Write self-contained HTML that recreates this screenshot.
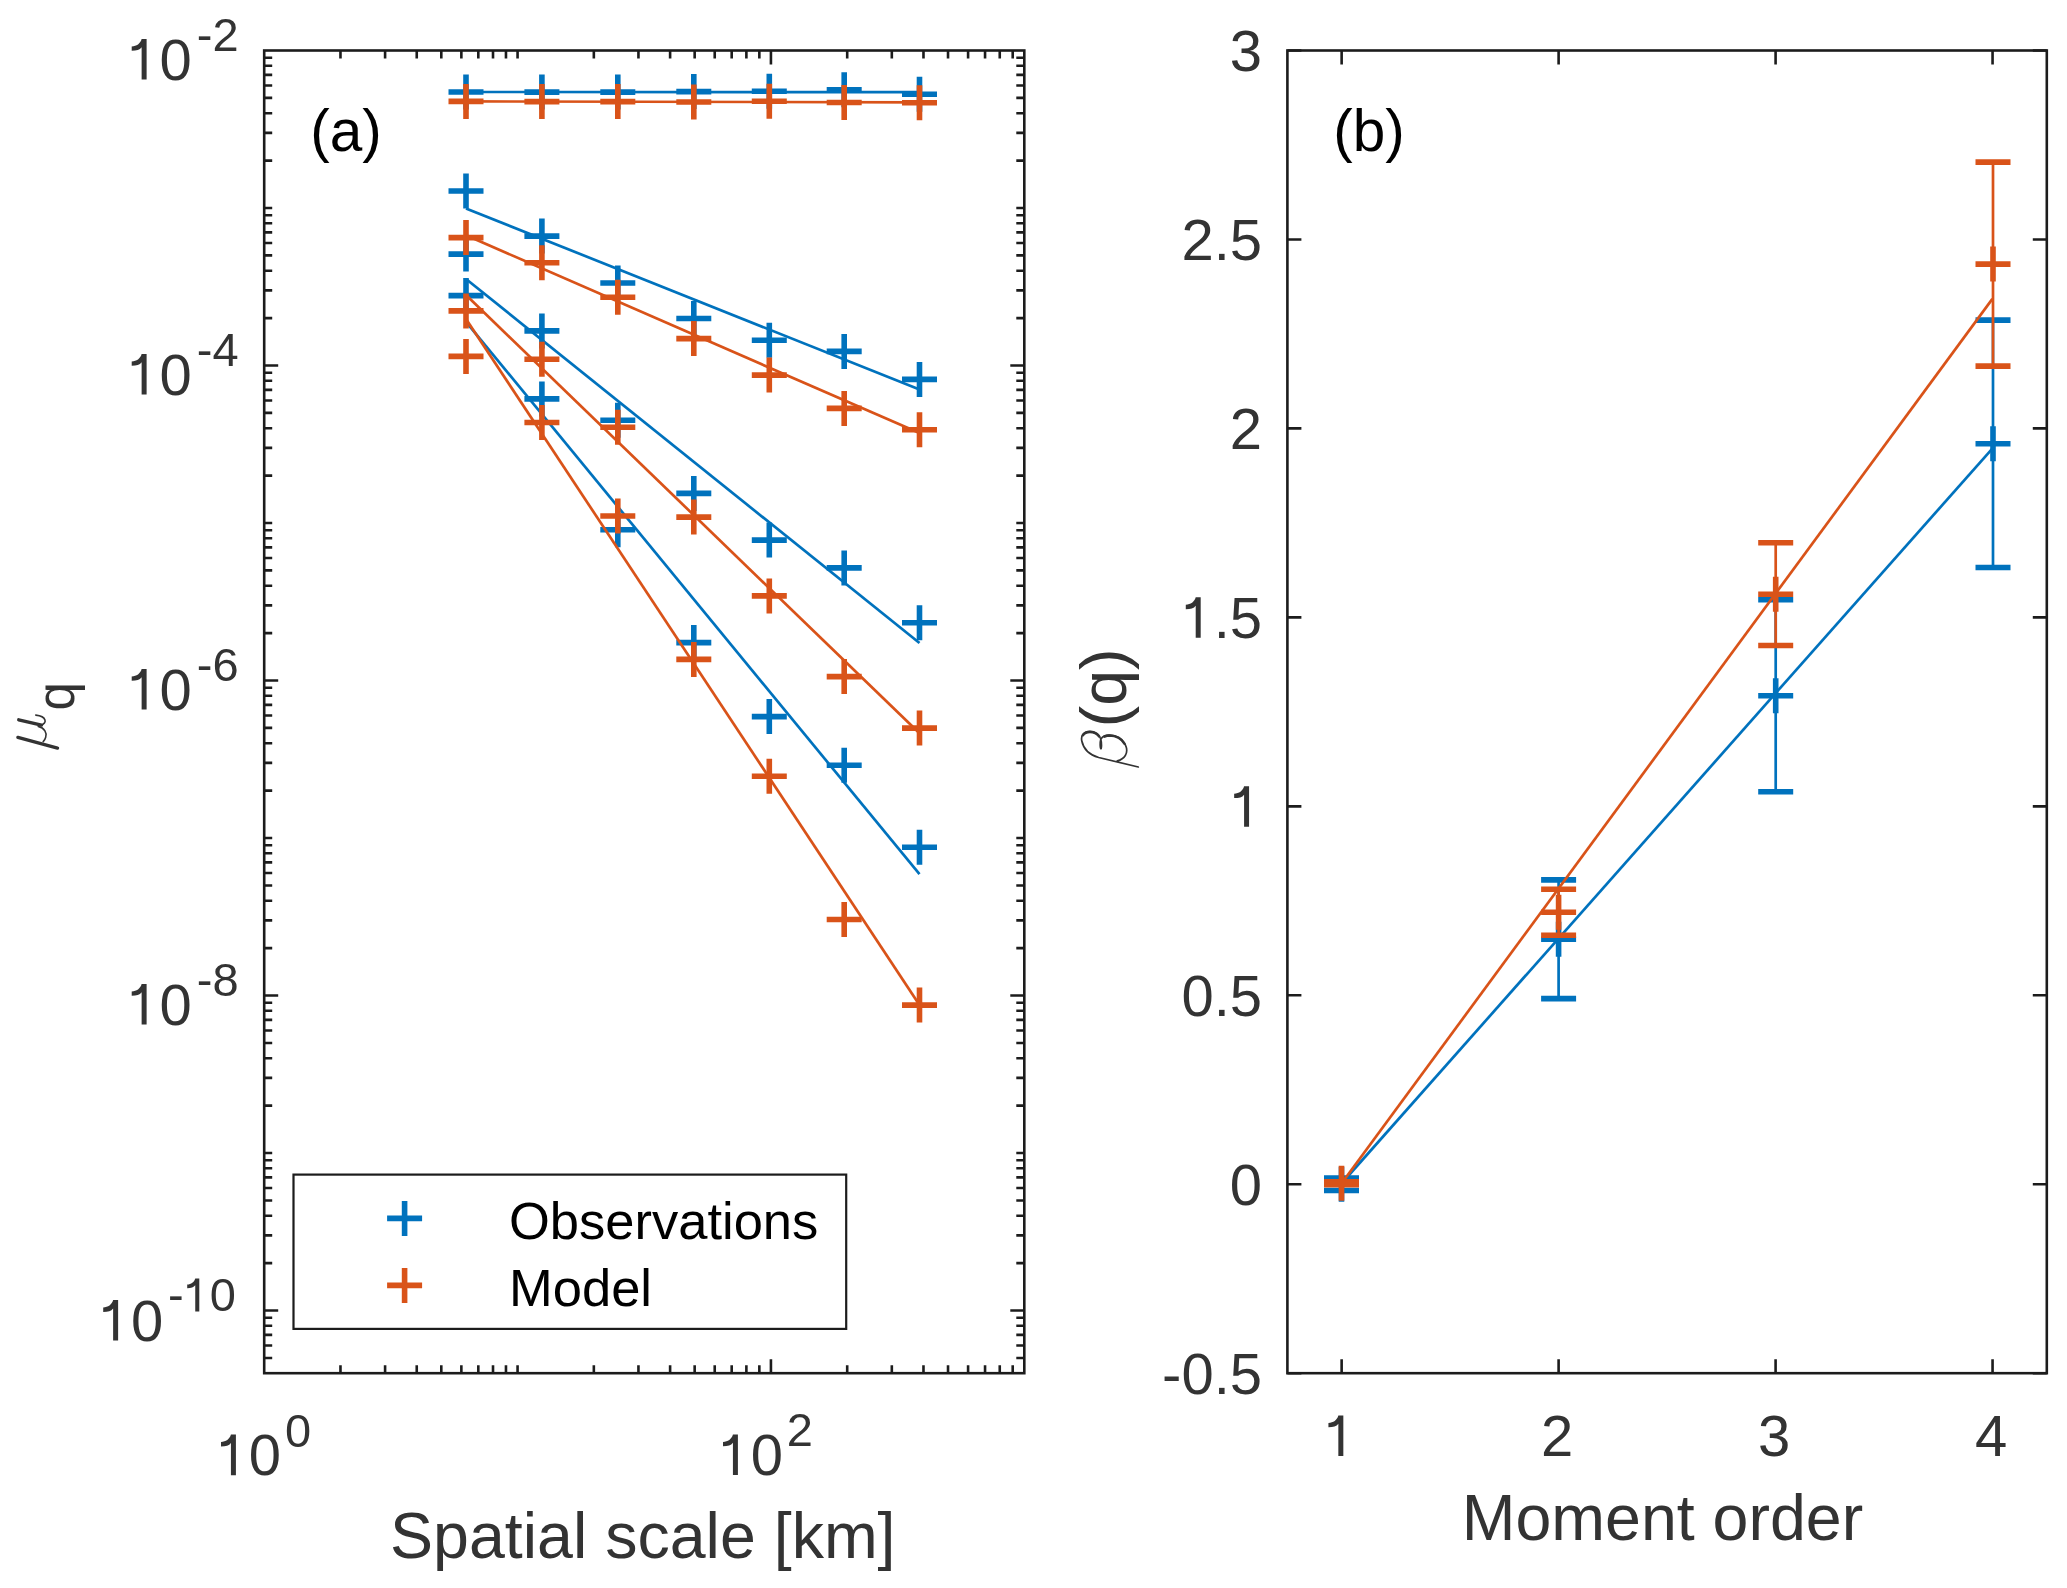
<!DOCTYPE html>
<html><head><meta charset="utf-8"><style>
html,body{margin:0;padding:0;background:#fff;}
svg{display:block;will-change:transform;}
text{font-family:"Liberation Sans",sans-serif;}
</style></head><body>
<svg width="2067" height="1588" viewBox="0 0 2067 1588">
<rect width="2067" height="1588" fill="#fff"/>
<path d="M340.47 1373.20V1365.20M340.47 50.50V58.50M385.09 1373.20V1365.20M385.09 50.50V58.50M416.74 1373.20V1365.20M416.74 50.50V58.50M441.30 1373.20V1365.20M441.30 50.50V58.50M461.36 1373.20V1365.20M461.36 50.50V58.50M478.32 1373.20V1365.20M478.32 50.50V58.50M493.01 1373.20V1365.20M493.01 50.50V58.50M505.97 1373.20V1365.20M505.97 50.50V58.50M517.57 1373.20V1365.20M517.57 50.50V58.50M593.84 1373.20V1365.20M593.84 50.50V58.50M638.45 1373.20V1365.20M638.45 50.50V58.50M670.11 1373.20V1365.20M670.11 50.50V58.50M694.66 1373.20V1365.20M694.66 50.50V58.50M714.72 1373.20V1365.20M714.72 50.50V58.50M731.69 1373.20V1365.20M731.69 50.50V58.50M746.38 1373.20V1365.20M746.38 50.50V58.50M759.34 1373.20V1365.20M759.34 50.50V58.50M770.93 1373.20V1359.20M770.93 50.50V64.50M847.20 1373.20V1365.20M847.20 50.50V58.50M891.82 1373.20V1365.20M891.82 50.50V58.50M923.48 1373.20V1365.20M923.48 50.50V58.50M948.03 1373.20V1365.20M948.03 50.50V58.50M968.09 1373.20V1365.20M968.09 50.50V58.50M985.05 1373.20V1365.20M985.05 50.50V58.50M999.75 1373.20V1365.20M999.75 50.50V58.50M1012.71 1373.20V1365.20M1012.71 50.50V58.50M770.93 1373.20V1359.20M770.93 50.50V64.50M264.20 1357.94H272.20M1024.30 1357.94H1016.30M264.20 1345.47H272.20M1024.30 1345.47H1016.30M264.20 1334.92H272.20M1024.30 1334.92H1016.30M264.20 1325.79H272.20M1024.30 1325.79H1016.30M264.20 1317.73H272.20M1024.30 1317.73H1016.30M264.20 1310.52H278.20M1024.30 1310.52H1010.30M264.20 1263.11H272.20M1024.30 1263.11H1016.30M264.20 1235.38H272.20M1024.30 1235.38H1016.30M264.20 1215.70H272.20M1024.30 1215.70H1016.30M264.20 1200.43H272.20M1024.30 1200.43H1016.30M264.20 1187.96H272.20M1024.30 1187.96H1016.30M264.20 1177.42H272.20M1024.30 1177.42H1016.30M264.20 1168.28H272.20M1024.30 1168.28H1016.30M264.20 1160.23H272.20M1024.30 1160.23H1016.30M264.20 1153.02H272.20M1024.30 1153.02H1016.30M264.20 1105.61H272.20M1024.30 1105.61H1016.30M264.20 1077.87H272.20M1024.30 1077.87H1016.30M264.20 1058.19H272.20M1024.30 1058.19H1016.30M264.20 1042.93H272.20M1024.30 1042.93H1016.30M264.20 1030.46H272.20M1024.30 1030.46H1016.30M264.20 1019.91H272.20M1024.30 1019.91H1016.30M264.20 1010.78H272.20M1024.30 1010.78H1016.30M264.20 1002.72H272.20M1024.30 1002.72H1016.30M264.20 995.52H278.20M1024.30 995.52H1010.30M264.20 948.10H272.20M1024.30 948.10H1016.30M264.20 920.37H272.20M1024.30 920.37H1016.30M264.20 900.69H272.20M1024.30 900.69H1016.30M264.20 885.43H272.20M1024.30 885.43H1016.30M264.20 872.96H272.20M1024.30 872.96H1016.30M264.20 862.41H272.20M1024.30 862.41H1016.30M264.20 853.28H272.20M1024.30 853.28H1016.30M264.20 845.22H272.20M1024.30 845.22H1016.30M264.20 838.01H272.20M1024.30 838.01H1016.30M264.20 790.60H272.20M1024.30 790.60H1016.30M264.20 762.87H272.20M1024.30 762.87H1016.30M264.20 743.19H272.20M1024.30 743.19H1016.30M264.20 727.92H272.20M1024.30 727.92H1016.30M264.20 715.45H272.20M1024.30 715.45H1016.30M264.20 704.91H272.20M1024.30 704.91H1016.30M264.20 695.78H272.20M1024.30 695.78H1016.30M264.20 687.72H272.20M1024.30 687.72H1016.30M264.20 680.51H278.20M1024.30 680.51H1010.30M264.20 633.10H272.20M1024.30 633.10H1016.30M264.20 605.36H272.20M1024.30 605.36H1016.30M264.20 585.69H272.20M1024.30 585.69H1016.30M264.20 570.42H272.20M1024.30 570.42H1016.30M264.20 557.95H272.20M1024.30 557.95H1016.30M264.20 547.41H272.20M1024.30 547.41H1016.30M264.20 538.27H272.20M1024.30 538.27H1016.30M264.20 530.22H272.20M1024.30 530.22H1016.30M264.20 523.01H272.20M1024.30 523.01H1016.30M264.20 475.60H272.20M1024.30 475.60H1016.30M264.20 447.86H272.20M1024.30 447.86H1016.30M264.20 428.18H272.20M1024.30 428.18H1016.30M264.20 412.92H272.20M1024.30 412.92H1016.30M264.20 400.45H272.20M1024.30 400.45H1016.30M264.20 389.90H272.20M1024.30 389.90H1016.30M264.20 380.77H272.20M1024.30 380.77H1016.30M264.20 372.71H272.20M1024.30 372.71H1016.30M264.20 365.51H278.20M1024.30 365.51H1010.30M264.20 318.09H272.20M1024.30 318.09H1016.30M264.20 290.36H272.20M1024.30 290.36H1016.30M264.20 270.68H272.20M1024.30 270.68H1016.30M264.20 255.42H272.20M1024.30 255.42H1016.30M264.20 242.94H272.20M1024.30 242.94H1016.30M264.20 232.40H272.20M1024.30 232.40H1016.30M264.20 223.27H272.20M1024.30 223.27H1016.30M264.20 215.21H272.20M1024.30 215.21H1016.30M264.20 208.00H272.20M1024.30 208.00H1016.30M264.20 160.59H272.20M1024.30 160.59H1016.30M264.20 132.85H272.20M1024.30 132.85H1016.30M264.20 113.18H272.20M1024.30 113.18H1016.30M264.20 97.91H272.20M1024.30 97.91H1016.30M264.20 85.44H272.20M1024.30 85.44H1016.30M264.20 74.90H272.20M1024.30 74.90H1016.30M264.20 65.76H272.20M1024.30 65.76H1016.30M264.20 57.71H272.20M1024.30 57.71H1016.30" stroke="#1c1c1c" stroke-width="2.6" fill="none"/>
<rect x="264.2" y="50.5" width="760.10" height="1322.70" stroke="#1c1c1c" stroke-width="2.6" fill="none"/>
<path d="M448.50 92.00H483.50M466.00 74.50V109.50" stroke="#0072BD" stroke-width="5.6" fill="none"/><path d="M524.40 92.10H559.40M541.90 74.60V109.60" stroke="#0072BD" stroke-width="5.6" fill="none"/><path d="M600.30 92.10H635.30M617.80 74.60V109.60" stroke="#0072BD" stroke-width="5.6" fill="none"/><path d="M676.30 91.60H711.30M693.80 74.10V109.10" stroke="#0072BD" stroke-width="5.6" fill="none"/><path d="M751.80 91.20H786.80M769.30 73.70V108.70" stroke="#0072BD" stroke-width="5.6" fill="none"/><path d="M826.70 89.70H861.70M844.20 72.20V107.20" stroke="#0072BD" stroke-width="5.6" fill="none"/><path d="M902.00 94.20H937.00M919.50 76.70V111.70" stroke="#0072BD" stroke-width="5.6" fill="none"/><path d="M448.50 191.00H483.50M466.00 173.50V208.50" stroke="#0072BD" stroke-width="5.6" fill="none"/><path d="M524.40 236.10H559.40M541.90 218.60V253.60" stroke="#0072BD" stroke-width="5.6" fill="none"/><path d="M600.30 283.00H635.30M617.80 265.50V300.50" stroke="#0072BD" stroke-width="5.6" fill="none"/><path d="M676.30 318.50H711.30M693.80 301.00V336.00" stroke="#0072BD" stroke-width="5.6" fill="none"/><path d="M751.80 340.20H786.80M769.30 322.70V357.70" stroke="#0072BD" stroke-width="5.6" fill="none"/><path d="M826.70 351.40H861.70M844.20 333.90V368.90" stroke="#0072BD" stroke-width="5.6" fill="none"/><path d="M902.00 379.40H937.00M919.50 361.90V396.90" stroke="#0072BD" stroke-width="5.6" fill="none"/><path d="M448.50 254.10H483.50M466.00 236.60V271.60" stroke="#0072BD" stroke-width="5.6" fill="none"/><path d="M524.40 330.90H559.40M541.90 313.40V348.40" stroke="#0072BD" stroke-width="5.6" fill="none"/><path d="M600.30 420.20H635.30M617.80 402.70V437.70" stroke="#0072BD" stroke-width="5.6" fill="none"/><path d="M676.30 493.40H711.30M693.80 475.90V510.90" stroke="#0072BD" stroke-width="5.6" fill="none"/><path d="M751.80 540.10H786.80M769.30 522.60V557.60" stroke="#0072BD" stroke-width="5.6" fill="none"/><path d="M826.70 567.90H861.70M844.20 550.40V585.40" stroke="#0072BD" stroke-width="5.6" fill="none"/><path d="M902.00 622.70H937.00M919.50 605.20V640.20" stroke="#0072BD" stroke-width="5.6" fill="none"/><path d="M448.50 295.60H483.50M466.00 278.10V313.10" stroke="#0072BD" stroke-width="5.6" fill="none"/><path d="M524.40 398.90H559.40M541.90 381.40V416.40" stroke="#0072BD" stroke-width="5.6" fill="none"/><path d="M600.30 529.80H635.30M617.80 512.30V547.30" stroke="#0072BD" stroke-width="5.6" fill="none"/><path d="M676.30 642.60H711.30M693.80 625.10V660.10" stroke="#0072BD" stroke-width="5.6" fill="none"/><path d="M751.80 716.60H786.80M769.30 699.10V734.10" stroke="#0072BD" stroke-width="5.6" fill="none"/><path d="M826.70 765.20H861.70M844.20 747.70V782.70" stroke="#0072BD" stroke-width="5.6" fill="none"/><path d="M902.00 847.30H937.00M919.50 829.80V864.80" stroke="#0072BD" stroke-width="5.6" fill="none"/><path d="M466.0 92.0L919.5 92.1" stroke="#0072BD" stroke-width="2.7" fill="none"/><path d="M466.0 208.4L919.5 389.6" stroke="#0072BD" stroke-width="2.7" fill="none"/><path d="M466.0 279.0L919.5 643.0" stroke="#0072BD" stroke-width="2.7" fill="none"/><path d="M466.0 321.8L919.5 874.2" stroke="#0072BD" stroke-width="2.7" fill="none"/>
<path d="M448.50 101.40H483.50M466.00 83.90V118.90" stroke="#D95319" stroke-width="5.6" fill="none"/><path d="M524.40 101.60H559.40M541.90 84.10V119.10" stroke="#D95319" stroke-width="5.6" fill="none"/><path d="M600.30 101.60H635.30M617.80 84.10V119.10" stroke="#D95319" stroke-width="5.6" fill="none"/><path d="M676.30 102.00H711.30M693.80 84.50V119.50" stroke="#D95319" stroke-width="5.6" fill="none"/><path d="M751.80 101.20H786.80M769.30 83.70V118.70" stroke="#D95319" stroke-width="5.6" fill="none"/><path d="M826.70 102.50H861.70M844.20 85.00V120.00" stroke="#D95319" stroke-width="5.6" fill="none"/><path d="M902.00 102.70H937.00M919.50 85.20V120.20" stroke="#D95319" stroke-width="5.6" fill="none"/><path d="M448.50 237.60H483.50M466.00 220.10V255.10" stroke="#D95319" stroke-width="5.6" fill="none"/><path d="M524.40 262.80H559.40M541.90 245.30V280.30" stroke="#D95319" stroke-width="5.6" fill="none"/><path d="M600.30 297.20H635.30M617.80 279.70V314.70" stroke="#D95319" stroke-width="5.6" fill="none"/><path d="M676.30 338.60H711.30M693.80 321.10V356.10" stroke="#D95319" stroke-width="5.6" fill="none"/><path d="M751.80 375.10H786.80M769.30 357.60V392.60" stroke="#D95319" stroke-width="5.6" fill="none"/><path d="M826.70 408.40H861.70M844.20 390.90V425.90" stroke="#D95319" stroke-width="5.6" fill="none"/><path d="M902.00 429.80H937.00M919.50 412.30V447.30" stroke="#D95319" stroke-width="5.6" fill="none"/><path d="M448.50 310.90H483.50M466.00 293.40V328.40" stroke="#D95319" stroke-width="5.6" fill="none"/><path d="M524.40 359.20H559.40M541.90 341.70V376.70" stroke="#D95319" stroke-width="5.6" fill="none"/><path d="M600.30 427.30H635.30M617.80 409.80V444.80" stroke="#D95319" stroke-width="5.6" fill="none"/><path d="M676.30 517.10H711.30M693.80 499.60V534.60" stroke="#D95319" stroke-width="5.6" fill="none"/><path d="M751.80 595.90H786.80M769.30 578.40V613.40" stroke="#D95319" stroke-width="5.6" fill="none"/><path d="M826.70 676.60H861.70M844.20 659.10V694.10" stroke="#D95319" stroke-width="5.6" fill="none"/><path d="M902.00 728.10H937.00M919.50 710.60V745.60" stroke="#D95319" stroke-width="5.6" fill="none"/><path d="M448.50 356.40H483.50M466.00 338.90V373.90" stroke="#D95319" stroke-width="5.6" fill="none"/><path d="M524.40 422.50H559.40M541.90 405.00V440.00" stroke="#D95319" stroke-width="5.6" fill="none"/><path d="M600.30 516.00H635.30M617.80 498.50V533.50" stroke="#D95319" stroke-width="5.6" fill="none"/><path d="M676.30 659.40H711.30M693.80 641.90V676.90" stroke="#D95319" stroke-width="5.6" fill="none"/><path d="M751.80 776.20H786.80M769.30 758.70V793.70" stroke="#D95319" stroke-width="5.6" fill="none"/><path d="M826.70 919.50H861.70M844.20 902.00V937.00" stroke="#D95319" stroke-width="5.6" fill="none"/><path d="M902.00 1005.10H937.00M919.50 987.60V1022.60" stroke="#D95319" stroke-width="5.6" fill="none"/><path d="M466.0 101.4L919.5 102.3" stroke="#D95319" stroke-width="2.7" fill="none"/><path d="M466.0 235.3L919.5 433.1" stroke="#D95319" stroke-width="2.7" fill="none"/><path d="M466.0 295.0L919.5 733.3" stroke="#D95319" stroke-width="2.7" fill="none"/><path d="M466.0 319.0L919.5 1005.0" stroke="#D95319" stroke-width="2.7" fill="none"/>
<rect x="293.5" y="1174.6" width="552.7" height="154.3" fill="#fff" stroke="#1c1c1c" stroke-width="2.2"/>
<path d="M387.10 1218.40H422.10M404.60 1200.90V1235.90" stroke="#0072BD" stroke-width="5.6" fill="none"/>
<path d="M387.10 1285.40H422.10M404.60 1267.90V1302.90" stroke="#D95319" stroke-width="5.6" fill="none"/>
<text x="509" y="1238.6" font-size="52.5" fill="#000">Observations</text>
<text x="509" y="1305.9" font-size="52.5" fill="#000">Model</text>
<text x="310.2" y="150.8" font-size="58.5" fill="#000">(a)</text>
<path transform="translate(127.30 79.50) scale(58)" d="M0.247 -0.70H0.333V0H0.247V-0.555C0.215 -0.51 0.16 -0.495 0.076 -0.495V-0.571C0.16 -0.575 0.225 -0.62 0.247 -0.70Z" fill="#333333"/><text x="159.55" y="79.50" font-size="58" fill="#333333">0</text>
<text x="238.65" y="50.70" font-size="47" text-anchor="end" fill="#333333">-2</text>
<path transform="translate(127.30 394.51) scale(58)" d="M0.247 -0.70H0.333V0H0.247V-0.555C0.215 -0.51 0.16 -0.495 0.076 -0.495V-0.571C0.16 -0.575 0.225 -0.62 0.247 -0.70Z" fill="#333333"/><text x="159.55" y="394.51" font-size="58" fill="#333333">0</text>
<text x="238.65" y="365.71" font-size="47" text-anchor="end" fill="#333333">-4</text>
<path transform="translate(127.30 709.51) scale(58)" d="M0.247 -0.70H0.333V0H0.247V-0.555C0.215 -0.51 0.16 -0.495 0.076 -0.495V-0.571C0.16 -0.575 0.225 -0.62 0.247 -0.70Z" fill="#333333"/><text x="159.55" y="709.51" font-size="58" fill="#333333">0</text>
<text x="238.65" y="680.71" font-size="47" text-anchor="end" fill="#333333">-6</text>
<path transform="translate(127.30 1024.52) scale(58)" d="M0.247 -0.70H0.333V0H0.247V-0.555C0.215 -0.51 0.16 -0.495 0.076 -0.495V-0.571C0.16 -0.575 0.225 -0.62 0.247 -0.70Z" fill="#333333"/><text x="159.55" y="1024.52" font-size="58" fill="#333333">0</text>
<text x="238.65" y="995.72" font-size="47" text-anchor="end" fill="#333333">-8</text>
<path transform="translate(98.80 1340.62) scale(58)" d="M0.247 -0.70H0.333V0H0.247V-0.555C0.215 -0.51 0.16 -0.495 0.076 -0.495V-0.571C0.16 -0.575 0.225 -0.62 0.247 -0.70Z" fill="#333333"/><text x="131.05" y="1340.62" font-size="58" fill="#333333">0</text>
<text x="167.99" y="1311.42" font-size="47" fill="#333333">-</text><path transform="translate(183.64 1311.42) scale(47)" d="M0.247 -0.70H0.333V0H0.247V-0.555C0.215 -0.51 0.16 -0.495 0.076 -0.495V-0.571C0.16 -0.575 0.225 -0.62 0.247 -0.70Z" fill="#333333"/><text x="209.77" y="1311.42" font-size="47" fill="#333333">0</text>
<path transform="translate(216.60 1475.20) scale(58)" d="M0.247 -0.70H0.333V0H0.247V-0.555C0.215 -0.51 0.16 -0.495 0.076 -0.495V-0.571C0.16 -0.575 0.225 -0.62 0.247 -0.70Z" fill="#333333"/><text x="248.85" y="1475.20" font-size="58" fill="#333333">0</text>
<text x="284.9" y="1446.8" font-size="47" fill="#333333">0</text>
<path transform="translate(718.60 1475.00) scale(58)" d="M0.247 -0.70H0.333V0H0.247V-0.555C0.215 -0.51 0.16 -0.495 0.076 -0.495V-0.571C0.16 -0.575 0.225 -0.62 0.247 -0.70Z" fill="#333333"/><text x="750.85" y="1475.00" font-size="58" fill="#333333">0</text>
<text x="786.75" y="1446.2" font-size="47" fill="#333333">2</text>
<text x="390.1" y="1557.5" font-size="64.5" fill="#333333">Spatial scale [km]</text>
<g fill="none" stroke="#333333" stroke-linecap="round"><path d="M18.7 719.8L41.5 725.1" stroke-width="3.3"/><path d="M41.0 725.0C47.3 723.6 47.0 716.2 35.8 715.1" stroke-width="1.6"/><path d="M38.3 726.4C44.6 728.0 47.2 733.2 45.7 737.2C45.1 739.3 44.2 740.6 43.2 741.6" stroke-width="1.6"/><path d="M17.9 737.4L57.5 748.1" stroke-width="3.4"/></g>
<text transform="translate(74.3 710.4) rotate(-90)" font-size="51" fill="#333333">q</text>
<path d="M1341.64 1373.2V1359.2M1341.64 50.5V64.5M1558.61 1373.2V1359.2M1558.61 50.5V64.5M1775.59 1373.2V1359.2M1775.59 50.5V64.5M1992.56 1373.2V1359.2M1992.56 50.5V64.5M1287.4 1373.20H1301.4M2046.8 1373.20H2032.8M1287.4 1184.24H1301.4M2046.8 1184.24H2032.8M1287.4 995.29H1301.4M2046.8 995.29H2032.8M1287.4 806.33H1301.4M2046.8 806.33H2032.8M1287.4 617.37H1301.4M2046.8 617.37H2032.8M1287.4 428.41H1301.4M2046.8 428.41H2032.8M1287.4 239.46H1301.4M2046.8 239.46H2032.8M1287.4 50.50H1301.4M2046.8 50.50H2032.8" stroke="#1c1c1c" stroke-width="2.6" fill="none"/>
<rect x="1287.4" y="50.5" width="759.40" height="1322.70" stroke="#1c1c1c" stroke-width="2.6" fill="none"/>
<path d="M1341.5 1183.5L1993.0 447.8" stroke="#0072BD" stroke-width="2.7" fill="none"/><path d="M1341.5 1178.0V1190.5" stroke="#0072BD" stroke-width="2.7" fill="none"/><path d="M1324.0 1178.0H1359.0M1324.0 1190.5H1359.0" stroke="#0072BD" stroke-width="5.6" fill="none"/><path d="M1324.00 1184.30H1359.00M1341.50 1166.80V1201.80" stroke="#0072BD" stroke-width="5.6" fill="none"/><path d="M1558.6 879.9V998.6" stroke="#0072BD" stroke-width="2.7" fill="none"/><path d="M1541.1 879.9H1576.1M1541.1 998.6H1576.1" stroke="#0072BD" stroke-width="5.6" fill="none"/><path d="M1541.10 939.30H1576.10M1558.60 921.80V956.80" stroke="#0072BD" stroke-width="5.6" fill="none"/><path d="M1775.7 599.8V791.7" stroke="#0072BD" stroke-width="2.7" fill="none"/><path d="M1758.2 599.8H1793.2M1758.2 791.7H1793.2" stroke="#0072BD" stroke-width="5.6" fill="none"/><path d="M1758.20 695.80H1793.20M1775.70 678.30V713.30" stroke="#0072BD" stroke-width="5.6" fill="none"/><path d="M1993.0 320.1V567.5" stroke="#0072BD" stroke-width="2.7" fill="none"/><path d="M1975.5 320.1H2010.5M1975.5 567.5H2010.5" stroke="#0072BD" stroke-width="5.6" fill="none"/><path d="M1975.50 443.80H2010.50M1993.00 426.30V461.30" stroke="#0072BD" stroke-width="5.6" fill="none"/>
<path d="M1341.5 1183.5L1992.4 298.9" stroke="#D95319" stroke-width="2.7" fill="none"/><path d="M1341.5 1181.8V1184.8" stroke="#D95319" stroke-width="2.7" fill="none"/><path d="M1324.0 1181.8H1359.0M1324.0 1184.8H1359.0" stroke="#D95319" stroke-width="5.6" fill="none"/><path d="M1324.00 1183.30H1359.00M1341.50 1165.80V1200.80" stroke="#D95319" stroke-width="5.6" fill="none"/><path d="M1558.6 889.3V935.2" stroke="#D95319" stroke-width="2.7" fill="none"/><path d="M1541.1 889.3H1576.1M1541.1 935.2H1576.1" stroke="#D95319" stroke-width="5.6" fill="none"/><path d="M1541.10 912.30H1576.10M1558.60 894.80V929.80" stroke="#D95319" stroke-width="5.6" fill="none"/><path d="M1775.7 542.8V645.5" stroke="#D95319" stroke-width="2.7" fill="none"/><path d="M1758.2 542.8H1793.2M1758.2 645.5H1793.2" stroke="#D95319" stroke-width="5.6" fill="none"/><path d="M1758.20 594.20H1793.20M1775.70 576.70V611.70" stroke="#D95319" stroke-width="5.6" fill="none"/><path d="M1993.0 162.1V366.1" stroke="#D95319" stroke-width="2.7" fill="none"/><path d="M1975.5 162.1H2010.5M1975.5 366.1H2010.5" stroke="#D95319" stroke-width="5.6" fill="none"/><path d="M1975.50 264.10H2010.50M1993.00 246.60V281.60" stroke="#D95319" stroke-width="5.6" fill="none"/>
<text x="1162.07" y="1393.70" font-size="58" fill="#333333">-0.5</text>
<text x="1229.75" y="1204.74" font-size="58" fill="#333333">0</text>
<text x="1181.38" y="1015.79" font-size="58" fill="#333333">0.5</text>
<path transform="translate(1229.75 826.83) scale(58)" d="M0.247 -0.70H0.333V0H0.247V-0.555C0.215 -0.51 0.16 -0.495 0.076 -0.495V-0.571C0.16 -0.575 0.225 -0.62 0.247 -0.70Z" fill="#333333"/>
<path transform="translate(1181.38 637.87) scale(58)" d="M0.247 -0.70H0.333V0H0.247V-0.555C0.215 -0.51 0.16 -0.495 0.076 -0.495V-0.571C0.16 -0.575 0.225 -0.62 0.247 -0.70Z" fill="#333333"/><text x="1213.63" y="637.87" font-size="58" fill="#333333">.5</text>
<text x="1229.75" y="448.91" font-size="58" fill="#333333">2</text>
<text x="1181.38" y="259.96" font-size="58" fill="#333333">2.5</text>
<text x="1229.75" y="71.00" font-size="58" fill="#333333">3</text>
<path transform="translate(1324.02 1456.00) scale(58)" d="M0.247 -0.70H0.333V0H0.247V-0.555C0.215 -0.51 0.16 -0.495 0.076 -0.495V-0.571C0.16 -0.575 0.225 -0.62 0.247 -0.70Z" fill="#333333"/>
<text x="1540.99" y="1456.00" font-size="58" fill="#333333">2</text>
<text x="1757.96" y="1456.00" font-size="58" fill="#333333">3</text>
<text x="1974.93" y="1456.00" font-size="58" fill="#333333">4</text>
<text x="1461.7" y="1540.3" font-size="64.5" fill="#333333">Moment order</text>
<text x="1333.3" y="150.8" font-size="58.5" fill="#000">(b)</text>
<g fill="none" stroke="#333333" stroke-linecap="round"><path d="M1138.3 767.0L1098.7 757.5C1090.0 755.0 1083.5 749.0 1081.8 741.0C1080.6 735.0 1084.0 731.5 1089.9 731.4C1095.0 731.4 1099.5 734.5 1100.8 739.2C1101.8 743.0 1101.6 748.7 1100.9 748.7C1100.2 748.7 1099.8 743.0 1100.8 739.2C1102.5 736.5 1105.0 735.2 1108.9 735.2C1117.0 735.2 1124.0 740.0 1126.2 747.0C1128.0 753.0 1125.0 759.0 1117.3 760.9" stroke-width="1.7"/><path d="M1082.9 735.2C1084.6 732.6 1087.0 731.9 1089.9 731.9C1093.8 731.9 1097.2 733.7 1099.2 736.4" stroke-width="2.5"/><path d="M1104.6 736.6C1106.5 735.8 1108.0 735.6 1109.5 735.6C1116.0 735.8 1121.5 738.7 1124.4 743.6" stroke-width="2.5"/></g>
<text transform="translate(1126.3 727.3) rotate(-90)" font-size="64.5" fill="#333333">(q)</text>
</svg>
</body></html>
